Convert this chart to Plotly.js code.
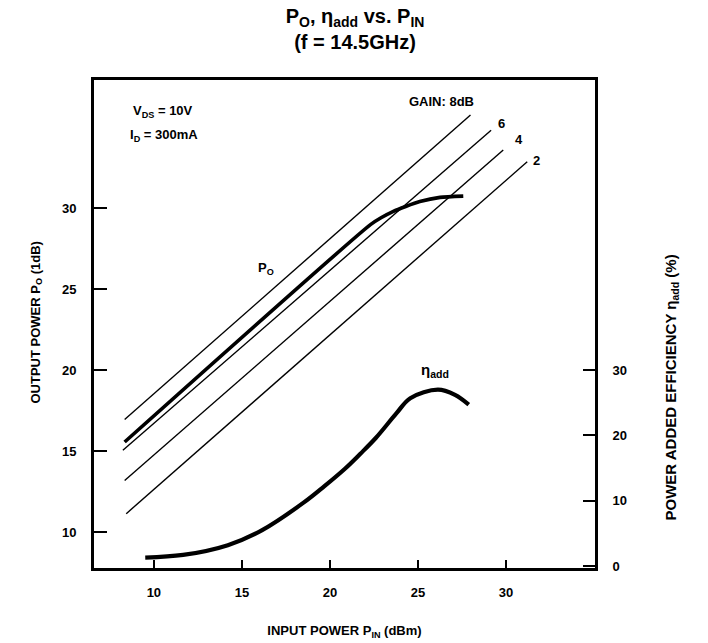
<!DOCTYPE html>
<html>
<head>
<meta charset="utf-8">
<script src="https://cdn.plot.ly/plotly-3.0.1.min.js"></script>
<style>html,body{margin:0;padding:0;background:#fff;}#chart{width:708px;height:643px;}</style>
</head>
<body>
<div id="chart"></div>
<script>
// Gain reference lines (read endpoints from picture)
const gainLabels = ["8", "6", "4", "2"];
const gain8Pin = [8.34, 27.98];
const gain8Pout = [16.96, 35.74];
const gain6Pin = [8.24, 29.15];
const gain6Pout = [15.06, 34.8];
const gain4Pin = [8.34, 29.84];
const gain4Pout = [13.2, 33.58];
const gain2Pin = [8.43, 31.2];
const gain2Pout = [11.15, 32.86];

// Output power Po curve
const poPin = [8.34, 22.3, 22.9, 23.6, 24.3, 25.1, 26.25, 27.57];
const poPout = [15.57, 28.98, 29.4, 29.8, 30.1, 30.4, 30.66, 30.74];

// Power added efficiency curve (%)
const effPin = [9.51, 11.66, 14.2, 16.15, 18.5, 19.67, 20.85, 21.73, 22.6, 23.78, 24.56, 26.13, 27.1, 27.88];
const effVal = [1.3, 1.7, 3.2, 5.5, 9.7, 12.2, 14.9, 17.2, 19.6, 23.4, 25.7, 27.0, 26.2, 24.7];

const xTicks = [10, 15, 20, 25, 30];
const yTicks = [10, 15, 20, 25, 30];
const y2Ticks = [0, 10, 20, 30];

const FONT = "Liberation Sans, Arial, Helvetica, sans-serif";

const thin = {color: "#000", width: 1.4};
const traces = [
  {x: gain8Pin, y: gain8Pout, mode: "lines", line: thin, name: "Gain 8dB", hoverinfo: "skip"},
  {x: gain6Pin, y: gain6Pout, mode: "lines", line: thin, name: "Gain 6dB", hoverinfo: "skip"},
  {x: gain4Pin, y: gain4Pout, mode: "lines", line: thin, name: "Gain 4dB", hoverinfo: "skip"},
  {x: gain2Pin, y: gain2Pout, mode: "lines", line: thin, name: "Gain 2dB", hoverinfo: "skip"},
  {x: poPin, y: poPout, mode: "lines", line: {color: "#000", width: 3.6, shape: "spline", smoothing: 0.6}, name: "Po"},
  {x: effPin, y: effVal, yaxis: "y2", mode: "lines", line: {color: "#000", width: 4.2, shape: "spline", smoothing: 1.0}, name: "ηadd"}
];

const tickFont = {family: FONT, size: 13, color: "#000", weight: "bold"};
const annFont = {family: FONT, size: 13, color: "#000", weight: "bold"};

const layout = {
  width: 708, height: 643,
  margin: {l: 94, r: 113, t: 80, b: 75},
  paper_bgcolor: "#fff", plot_bgcolor: "#fff",
  showlegend: false,
  title: {
    text: "P<sub>O</sub>, η<sub>add</sub> vs. P<sub>IN</sub><br>(f = 14.5GHz)",
    font: {family: FONT, size: 20, color: "#000", weight: "bold"},
    x: 0.521, xanchor: "center", xref: "paper",
    y: 0.965, yanchor: "top", yref: "container"
  },
  xaxis: {
    range: [6.6, 35.05], tickvals: xTicks, ticktext: xTicks.map(String),
    ticks: "inside", ticklen: 8, tickwidth: 2, tickcolor: "#000",
    showline: true, linewidth: 3, linecolor: "#000", mirror: true,
    showgrid: false, zeroline: false, tickfont: tickFont, ticklabelstandoff: 10,
    title: {text: "INPUT POWER P<sub>IN</sub> (dBm)", font: {family: FONT, size: 13, color: "#000", weight: "bold"}, standoff: 28}
  },
  yaxis: {
    range: [7.8, 37.9], tickvals: yTicks, ticktext: yTicks.map(String),
    ticks: "inside", ticklen: 13, tickwidth: 2, tickcolor: "#000",
    showline: true, linewidth: 3, linecolor: "#000",
    showgrid: false, zeroline: false, tickfont: tickFont, ticklabelstandoff: 12
  },
  yaxis2: {
    range: [-0.3, 74.4], tickvals: y2Ticks, ticktext: y2Ticks.map(String),
    overlaying: "y", side: "right",
    ticks: "inside", ticklen: 12, tickwidth: 2, tickcolor: "#000",
    showline: true, linewidth: 3, linecolor: "#000",
    showgrid: false, zeroline: false, tickfont: tickFont, ticklabelstandoff: 12
  },
  annotations: [
    {x: 8.72, y: 35.94, xref: "x", yref: "y", xanchor: "left", yanchor: "middle", showarrow: false,
     text: "V<sub>DS</sub> = 10V", font: annFont},
    {x: 8.52, y: 34.5, xref: "x", yref: "y", xanchor: "left", yanchor: "middle", showarrow: false,
     text: "I<sub>D</sub> = 300mA", font: annFont},
    {x: 26.35, y: 36.56, xref: "x", yref: "y", xanchor: "center", yanchor: "middle", showarrow: false,
     text: "GAIN: " + gainLabels[0] + "dB", font: annFont},
    {x: 29.72, y: 35.23, xref: "x", yref: "y", showarrow: false, text: gainLabels[1], font: annFont},
    {x: 30.74, y: 34.2, xref: "x", yref: "y", showarrow: false, text: gainLabels[2], font: annFont},
    {x: 31.74, y: 32.96, xref: "x", yref: "y", showarrow: false, text: gainLabels[3], font: annFont},
    {x: 16.39, y: 26.3, xref: "x", yref: "y", showarrow: false, text: "P<sub>O</sub>", font: annFont},
    {x: 25.97, y: 20.0, xref: "x", yref: "y", showarrow: false, text: "η<sub>add</sub>", font: {family: FONT, size: 15, color: "#000", weight: "bold"}},
    {x: 25, y: 406, xref: "paper", yref: "paper", showarrow: false, textangle: -90,
     text: "OUTPUT POWER P<sub>O</sub> (1dB)", font: annFont},
    {x: 683, y: 388, xref: "paper", yref: "paper", showarrow: false, textangle: -90,
     text: "POWER ADDED EFFICIENCY η<sub>add</sub> (%)", font: {family: FONT, size: 15, color: "#000", weight: "bold"}}
  ]
};

// convert pixel positions of the rotated axis titles to paper coordinates
const plotL = layout.margin.l, plotR = layout.width - layout.margin.r;
const plotT = layout.margin.t, plotB = layout.height - layout.margin.b;
[8, 9].forEach(i => {
  const a = layout.annotations[i];
  a.x = (a.x - plotL) / (plotR - plotL);
  a.y = (plotB - a.y) / (plotB - plotT);
});

Plotly.newPlot("chart", traces, layout, {displayModeBar: false, staticPlot: true});
</script>
</body>
</html>
